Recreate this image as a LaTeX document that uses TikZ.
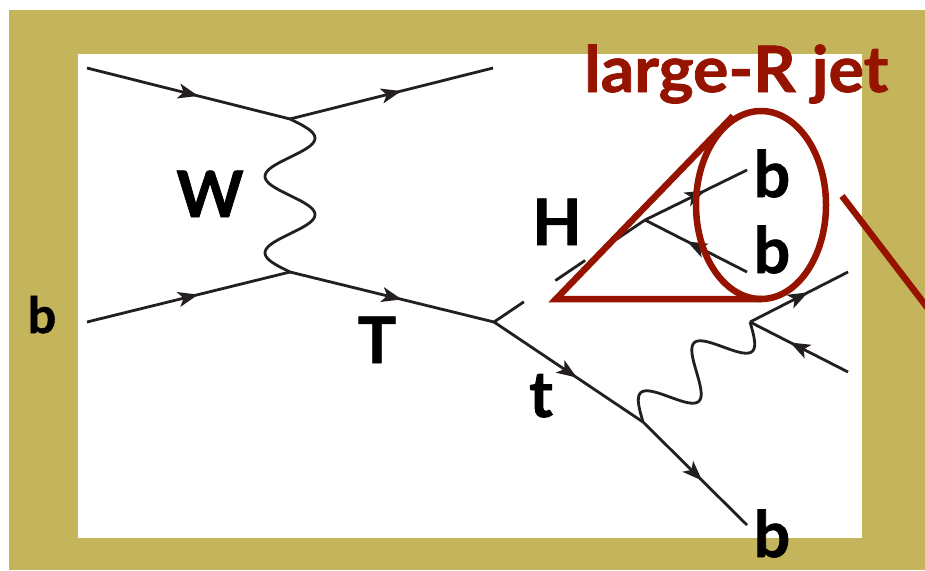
\documentclass[tikz,border=0pt]{standalone}
\usepackage{fontspec}
\setmainfont{Lato}[BoldFeatures={FakeBold=1.2}]
\usetikzlibrary{arrows.meta,decorations.markings,calc}
\definecolor{gold}{HTML}{C4B45B}
\definecolor{jetred}{HTML}{961300}
\definecolor{ink}{HTML}{231F20}
\begin{document}
\begin{tikzpicture}[x=1pt,y=-1pt,
  fline/.style={line width=2.8pt, draw=ink, postaction={decorate},
    decoration={markings, mark=at position {0.5*\pgfdecoratedpathlength+10pt} with {\arrow[ink]{Stealth[length=20pt,width=15pt,inset=5pt]}}}},
  plain/.style={line width=2.8pt, draw=ink},
  hline/.style={line width=2.8pt, draw=ink, dash pattern=on 36pt off 38pt},
  jet/.style={line width=6.5pt, draw=jetred},
  lab/.style={font=\bfseries\fontsize{64}{64}\selectfont, inner sep=0pt, anchor=base, text=black},
  smalllab/.style={font=\bfseries\fontsize{50}{50}\selectfont, inner sep=0pt, anchor=base, text=black},
  jettext/.style={font=\bfseries\fontsize{64}{64}\selectfont, inner sep=0pt, anchor=base west, text=jetred}]
\path[use as bounding box] (0,0) rectangle (925,570);
\clip (0,0) rectangle (925,570);
\fill[white] (0,0) rectangle (925,570);
\fill[gold] (9,10) rectangle (925,570);
\fill[white] (78,54) rectangle (862,538);
% vertices
\coordinate (a1) at (87,68);
\coordinate (v1) at (290,119);
\coordinate (a2) at (493,68);
\coordinate (a3) at (87,322);
\coordinate (v2) at (290,272);
\coordinate (vt) at (494,322);
\coordinate (hv) at (645,220);
\coordinate (hb1) at (747,170);
\coordinate (hb2) at (747,272);
\coordinate (wv) at (643,422);
\coordinate (bend) at (747,525);
\coordinate (dv) at (750,322);
\coordinate (d1) at (848,272);
\coordinate (d2) at (848,372);
% fermion lines
\draw[fline] (a1) -- (v1);
\draw[fline] (v1) -- (a2);
\draw[fline] (a3) -- (v2);
\draw[fline] (v2) -- (vt);
\draw[fline] (vt) -- (wv);
\draw[fline] (wv) -- (bend);
\draw[fline] (dv) -- (d1);
\draw[fline] (d2) -- (dv);
\draw[fline] (hv) -- (hb1);
\draw[fline] (hb2) -- (hv);
\draw[hline] (vt) -- (hv);
% W bosons
\draw[plain] let \p1=(v1), \p2=(v2), \n1={veclen(\x2-\x1,\y2-\y1)} in
  plot[smooth, samples=81, domain=0:1, variable=\pp]
  ({\x1+(\x2-\x1)*\pp-(\y2-\y1)/\n1*25*sin(720*\pp)}, {\y1+(\y2-\y1)*\pp+(\x2-\x1)/\n1*25*sin(720*\pp)});
\draw[plain] let \p1=(wv), \p2=(dv), \n1={veclen(\x2-\x1,\y2-\y1)} in
  plot[smooth, samples=81, domain=0:1, variable=\pp]
  ({\x1+(\x2-\x1)*\pp-(\y2-\y1)/\n1*23*sin(720*\pp)}, {\y1+(\y2-\y1)*\pp+(\x2-\x1)/\n1*23*sin(720*\pp)});
% large-R jet cone
\coordinate (tap) at (556,299);
\coordinate (ttop) at (733,116);
\coordinate (tbot) at (762,299);
\coordinate (ec) at (761,205);
\draw[jet, line join=miter] (ttop) -- (tap) -- (tbot);
\draw[jet] (ec) ellipse [x radius=65, y radius=94];
\coordinate (r1) at (842,196);
\coordinate (r2) at (936,319);
\draw[jet] (r1) -- (r2);
% labels
\node[lab] (lW) at (210,217) {W};
\node[lab] (lT) at (377,363) {T};
\node[smalllab] (lb0) at (42,333) {b};
\node[lab] (lH) at (557,245) {H};
\node[lab] (lb1) at (772,197) {b};
\node[lab] (lb2) at (772,273) {b};
\node[lab] (lt) at (541,417) {t};
\node[lab] (lb3) at (772,557) {b};
\node[jettext] (ljet) at (584,92) {\resizebox{304pt}{\height}{large-R jet}};
\end{tikzpicture}
\end{document}
